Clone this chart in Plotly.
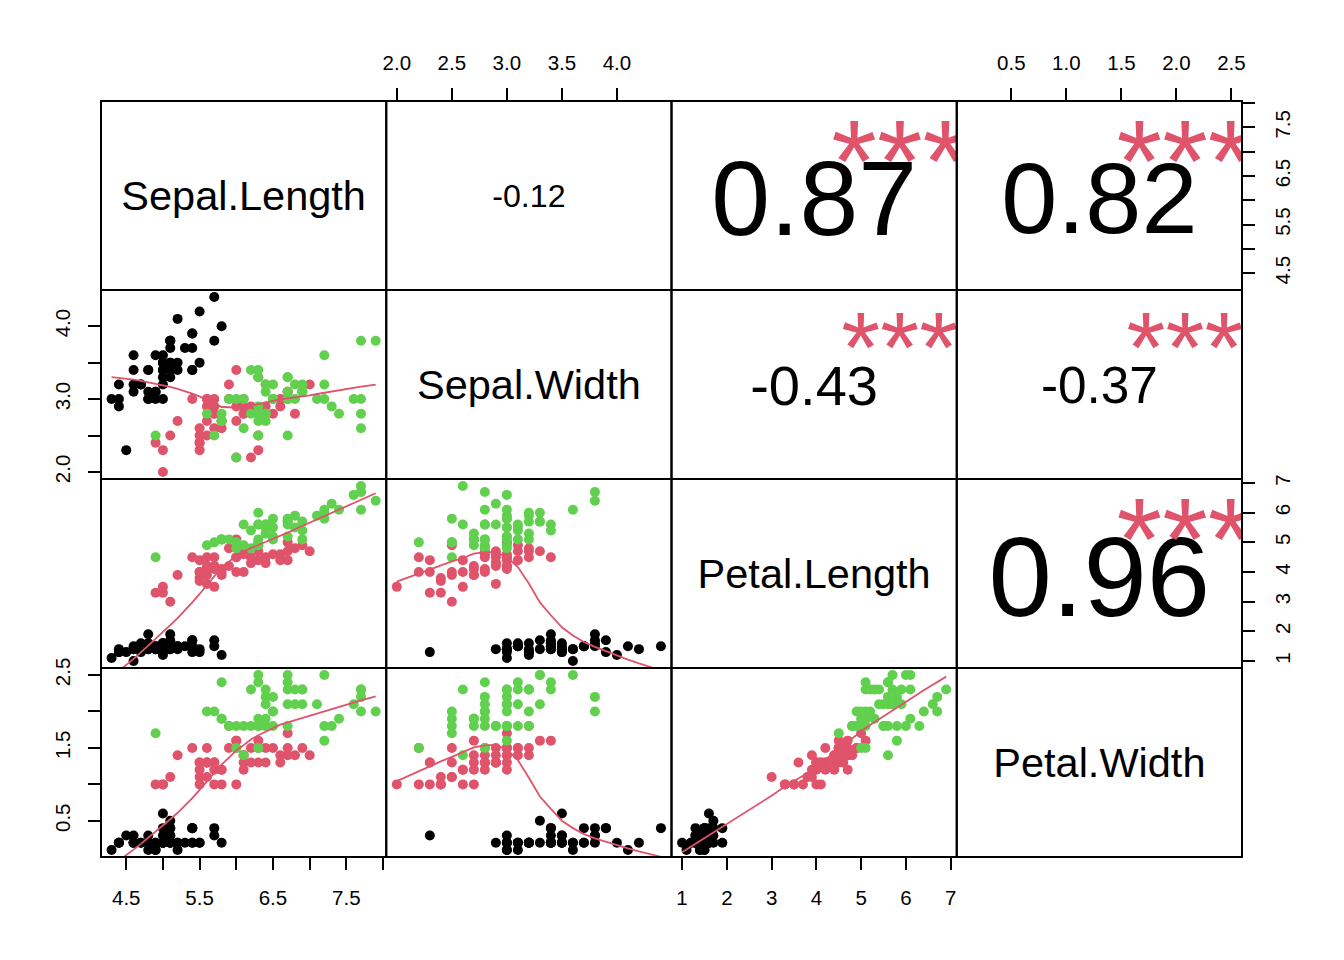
import numpy as np
import plotly.graph_objects as go
from plotly.subplots import make_subplots

# iris measurements (R datasets::iris), rows 1-150
sepal_length = [
    5.1, 4.9, 4.7, 4.6, 5.0, 5.4, 4.6, 5.0, 4.4, 4.9, 5.4, 4.8, 4.8, 4.3, 5.8, 5.7, 5.4, 5.1, 5.7, 5.1,
    5.4, 5.1, 4.6, 5.1, 4.8, 5.0, 5.0, 5.2, 5.2, 4.7, 4.8, 5.4, 5.2, 5.5, 4.9, 5.0, 5.5, 4.9, 4.4, 5.1,
    5.0, 4.5, 4.4, 5.0, 5.1, 4.8, 5.1, 4.6, 5.3, 5.0,
    7.0, 6.4, 6.9, 5.5, 6.5, 5.7, 6.3, 4.9, 6.6, 5.2, 5.0, 5.9, 6.0, 6.1, 5.6, 6.7, 5.6, 5.8, 6.2, 5.6,
    5.9, 6.1, 6.3, 6.1, 6.4, 6.6, 6.8, 6.7, 6.0, 5.7, 5.5, 5.5, 5.8, 6.0, 5.4, 6.0, 6.7, 6.3, 5.6, 5.5,
    5.5, 6.1, 5.8, 5.0, 5.6, 5.7, 5.7, 6.2, 5.1, 5.7,
    6.3, 5.8, 7.1, 6.3, 6.5, 7.6, 4.9, 7.3, 6.7, 7.2, 6.5, 6.4, 6.8, 5.7, 5.8, 6.4, 6.5, 7.7, 7.7, 6.0,
    6.9, 5.6, 7.7, 6.3, 6.7, 7.2, 6.2, 6.1, 6.4, 7.2, 7.4, 7.9, 6.4, 6.3, 6.1, 7.7, 6.3, 6.4, 6.0, 6.9,
    6.7, 6.9, 5.8, 6.8, 6.7, 6.7, 6.3, 6.5, 6.2, 5.9,
]
sepal_width = [
    3.5, 3.0, 3.2, 3.1, 3.6, 3.9, 3.4, 3.4, 2.9, 3.1, 3.7, 3.4, 3.0, 3.0, 4.0, 4.4, 3.9, 3.5, 3.8, 3.8,
    3.4, 3.7, 3.6, 3.3, 3.4, 3.0, 3.4, 3.5, 3.4, 3.2, 3.1, 3.4, 4.1, 4.2, 3.1, 3.2, 3.5, 3.6, 3.0, 3.4,
    3.5, 2.3, 3.2, 3.5, 3.8, 3.0, 3.8, 3.2, 3.7, 3.3,
    3.2, 3.2, 3.1, 2.3, 2.8, 2.8, 3.3, 2.4, 2.9, 2.7, 2.0, 3.0, 2.2, 2.9, 2.9, 3.1, 3.0, 2.7, 2.2, 2.5,
    3.2, 2.8, 2.5, 2.8, 2.9, 3.0, 2.8, 3.0, 2.9, 2.6, 2.4, 2.4, 2.7, 2.7, 3.0, 3.4, 3.1, 2.3, 3.0, 2.5,
    2.6, 3.0, 2.6, 2.3, 2.7, 3.0, 2.9, 2.9, 2.5, 2.8,
    3.3, 2.7, 3.0, 2.9, 3.0, 3.0, 2.5, 2.9, 2.5, 3.6, 3.2, 2.7, 3.0, 2.5, 2.8, 3.2, 3.0, 3.8, 2.6, 2.2,
    3.2, 2.8, 2.8, 2.7, 3.3, 3.2, 2.8, 3.0, 2.8, 3.0, 2.8, 3.8, 2.8, 2.8, 2.6, 3.0, 3.4, 3.1, 3.0, 3.1,
    3.1, 3.1, 2.7, 3.2, 3.3, 3.0, 2.5, 3.0, 3.4, 3.0,
]
petal_length = [
    1.4, 1.4, 1.3, 1.5, 1.4, 1.7, 1.4, 1.5, 1.4, 1.5, 1.5, 1.6, 1.4, 1.1, 1.2, 1.5, 1.3, 1.4, 1.7, 1.5,
    1.7, 1.5, 1.0, 1.7, 1.9, 1.6, 1.6, 1.5, 1.4, 1.6, 1.6, 1.5, 1.5, 1.4, 1.5, 1.2, 1.3, 1.4, 1.3, 1.5,
    1.3, 1.3, 1.3, 1.6, 1.9, 1.4, 1.6, 1.4, 1.5, 1.4,
    4.7, 4.5, 4.9, 4.0, 4.6, 4.5, 4.7, 3.3, 4.6, 3.9, 3.5, 4.2, 4.0, 4.7, 3.6, 4.4, 4.5, 4.1, 4.5, 3.9,
    4.8, 4.0, 4.9, 4.7, 4.3, 4.4, 4.8, 5.0, 4.5, 3.5, 3.8, 3.7, 3.9, 5.1, 4.5, 4.5, 4.7, 4.4, 4.1, 4.0,
    4.4, 4.6, 4.0, 3.3, 4.2, 4.2, 4.2, 4.3, 3.0, 4.1,
    6.0, 5.1, 5.9, 5.6, 5.8, 6.6, 4.5, 6.3, 5.8, 6.1, 5.1, 5.3, 5.5, 5.0, 5.1, 5.3, 5.5, 6.7, 6.9, 5.0,
    5.7, 4.9, 6.7, 4.9, 5.7, 6.0, 4.8, 4.9, 5.6, 5.8, 6.1, 6.4, 5.6, 5.1, 5.6, 6.1, 5.6, 5.5, 4.8, 5.4,
    5.6, 5.1, 5.1, 5.9, 5.7, 5.2, 5.0, 5.2, 5.4, 5.1,
]
petal_width = [
    0.2, 0.2, 0.2, 0.2, 0.2, 0.4, 0.3, 0.2, 0.2, 0.1, 0.2, 0.2, 0.1, 0.1, 0.2, 0.4, 0.4, 0.3, 0.3, 0.3,
    0.2, 0.4, 0.2, 0.5, 0.2, 0.2, 0.4, 0.2, 0.2, 0.2, 0.2, 0.4, 0.1, 0.2, 0.2, 0.2, 0.2, 0.1, 0.2, 0.2,
    0.3, 0.3, 0.2, 0.6, 0.4, 0.3, 0.2, 0.2, 0.2, 0.2,
    1.4, 1.5, 1.5, 1.3, 1.5, 1.3, 1.6, 1.0, 1.3, 1.4, 1.0, 1.5, 1.0, 1.4, 1.3, 1.4, 1.5, 1.0, 1.5, 1.1,
    1.8, 1.3, 1.5, 1.2, 1.3, 1.4, 1.4, 1.7, 1.5, 1.0, 1.1, 1.0, 1.2, 1.6, 1.5, 1.6, 1.5, 1.3, 1.3, 1.3,
    1.2, 1.4, 1.2, 1.0, 1.3, 1.2, 1.3, 1.3, 1.1, 1.3,
    2.5, 1.9, 2.1, 1.8, 2.2, 2.1, 1.7, 1.8, 1.8, 2.5, 2.0, 1.9, 2.1, 2.0, 2.4, 2.3, 1.8, 2.2, 2.3, 1.5,
    2.3, 2.0, 2.0, 1.8, 2.1, 1.8, 1.8, 1.8, 2.1, 1.6, 1.9, 2.0, 2.2, 1.5, 1.4, 2.3, 2.4, 1.8, 1.8, 2.1,
    2.4, 2.3, 1.9, 2.3, 2.5, 2.3, 1.9, 2.0, 2.3, 1.8,
]
species = ["setosa"] * 50 + ["versicolor"] * 50 + ["virginica"] * 50

variable_names = ["Sepal.Length", "Sepal.Width", "Petal.Length", "Petal.Width"]
# significance stars for the upper panels, (row, col) pairs as in the picture
star_labels = {(0, 1): "", (0, 2): "***", (0, 3): "***",
               (1, 2): "***", (1, 3): "***", (2, 3): "***"}

# tick values / labels per variable (R drops labels that would overlap)
sl_ticks = [4.5, 5.0, 5.5, 6.0, 6.5, 7.0, 7.5, 8.0]
sl_labels = ["4.5", "", "5.5", "", "6.5", "", "7.5", ""]
sw_ticks = [2.0, 2.5, 3.0, 3.5, 4.0]
sw_labels_top = ["2.0", "2.5", "3.0", "3.5", "4.0"]
sw_labels_left = ["2.0", "", "3.0", "", "4.0"]
pl_ticks = [1, 2, 3, 4, 5, 6, 7]
pl_labels = ["1", "2", "3", "4", "5", "6", "7"]
pw_ticks = [0.5, 1.0, 1.5, 2.0, 2.5]
pw_labels_top = ["0.5", "1.0", "1.5", "2.0", "2.5"]
pw_labels_left = ["0.5", "", "1.5", "", "2.5"]

species_colors = {"setosa": "#000000", "versicolor": "#DF536B", "virginica": "#61D04F"}
RED = "#DF536B"
FONT = "Liberation Sans, Arial, sans-serif"


def lowess(x, y, f=2 / 3, iters=3):
    # port of R's clowess (delta has no effect at this data spacing)
    x = np.asarray(x, float)
    y = np.asarray(y, float)
    order = np.argsort(x, kind="stable")
    x, y = x[order], y[order]
    n = len(x)
    ns = max(min(int(f * n + 1e-7), n), 2)
    rw = np.ones(n)
    ys = np.zeros(n)
    xr = x[-1] - x[0]
    for it in range(iters + 1):
        nleft, nright = 0, ns - 1
        for i in range(n):
            while nright < n - 1:
                if x[i] - x[nleft] <= x[nright + 1] - x[i]:
                    break
                nleft += 1
                nright += 1
            h = max(x[i] - x[nleft], x[nright] - x[i])
            h9, h1 = 0.999 * h, 0.001 * h
            w = np.zeros(n)
            j = nleft
            while j < n:
                r = abs(x[j] - x[i])
                if r <= h9:
                    w[j] = rw[j] if r <= h1 else rw[j] * (1 - (r / h) ** 3) ** 3
                elif x[j] > x[i]:
                    break
                j += 1
            a = w.sum()
            if a <= 0:
                ys[i] = y[i]
                continue
            w = w / a
            if h > 0:
                a = (w * x).sum()
                b = x[i] - a
                c = (w * (x - a) ** 2).sum()
                if np.sqrt(c) > 0.001 * xr:
                    b = b / c
                    w = w * (b * (x - a) + 1)
            ys[i] = (w * y).sum()
        if it == iters:
            break
        res = y - ys
        sc = np.abs(res).mean()
        cmad = 6 * np.median(np.abs(res))
        if cmad < 1e-7 * sc:
            break
        ar = np.abs(res)
        rw = np.where(ar <= 0.001 * cmad, 1.0,
                      np.where(ar <= 0.999 * cmad, (1 - (ar / cmad) ** 2) ** 2, 0.0))
    return x, ys


def str_width_em(s):
    widths = {"-": 0.333, ".": 0.278, "*": 0.389}
    return sum(widths.get(ch, 0.556) for ch in s)


data = [sepal_length, sepal_width, petal_length, petal_width]
ranges = []
for v in data:
    lo, hi = min(v), max(v)
    ext = 0.04 * (hi - lo)
    ranges.append([lo - ext, hi + ext])
point_colors = [species_colors[s] for s in species]

# page body has an 8px margin, so the figure is a bit smaller than the window
W, H = 1328, 944
ML, MR, MT, MB = 93, 94, 93, 95
panel_w = (W - ML - MR) / 4
panel_h = (H - MT - MB) / 4


def text_y(yr, frac, size_px, drop_em):
    # vertical anchor in data units, nudged down so the glyphs sit centred like R's text()
    span = yr[1] - yr[0]
    return yr[0] + frac * span - drop_em * size_px / panel_h * span


fig = make_subplots(rows=4, cols=4, horizontal_spacing=0, vertical_spacing=0)

for i in range(4):
    for j in range(4):
        xr, yr = ranges[j], ranges[i]
        xmid = (xr[0] + xr[1]) / 2
        if i > j:
            fig.add_trace(go.Scatter(
                x=data[j], y=data[i], mode="markers",
                marker=dict(size=10, color=point_colors, line=dict(width=0)),
                hoverinfo="skip", showlegend=False), row=i + 1, col=j + 1)
            sx, sy = lowess(data[j], data[i])
            fig.add_trace(go.Scatter(
                x=sx, y=sy, mode="lines", line=dict(color=RED, width=1.8),
                hoverinfo="skip", showlegend=False), row=i + 1, col=j + 1)
        elif i == j:
            size = 41.5
            fig.add_trace(go.Scatter(
                x=[xmid], y=[text_y(yr, 0.5, size, 0.1)], mode="text",
                text=[variable_names[i]], textfont=dict(size=size, color="black", family=FONT),
                hoverinfo="skip", showlegend=False), row=i + 1, col=j + 1)
        else:
            r = np.corrcoef(data[j], data[i])[0, 1]
            txt = f"{r:.2f}"
            cex = 0.8 * panel_w / str_width_em(txt)
            size = cex * (abs(r) + 0.3) / 1.3
            fig.add_trace(go.Scatter(
                x=[xmid], y=[text_y(yr, 0.5, size, 0.12)], mode="text",
                text=[txt], textfont=dict(size=size, color="black", family=FONT),
                hoverinfo="skip", showlegend=False), row=i + 1, col=j + 1)
            stars = star_labels[(i, j)]
            if stars:
                fig.add_trace(go.Scatter(
                    x=[xr[0] + 0.8 * (xr[1] - xr[0])], y=[text_y(yr, 0.8, cex, 0.29)],
                    mode="text", text=[stars], textposition="middle center",
                    textfont=dict(size=cex, color=RED, family=FONT),
                    hoverinfo="skip", showlegend=False), row=i + 1, col=j + 1)

base_axis = dict(showgrid=False, zeroline=False, showline=False,
                 ticks="", showticklabels=False,
                 tickfont=dict(size=20.5, color="black", family=FONT))

for i in range(4):
    for j in range(4):
        idx = i * 4 + j + 1
        suffix = "" if idx == 1 else str(idx)
        fig.update_layout({f"xaxis{idx}": dict(base_axis, range=ranges[j]),
                           f"yaxis{idx}": dict(base_axis, range=ranges[i])})
        # panel frame; drawn as a shape so shared edges coincide
        fig.add_shape(type="rect", xref=f"x{suffix} domain", yref=f"y{suffix} domain",
                      x0=0, x1=1, y0=0, y1=1, line=dict(color="black", width=2),
                      fillcolor="rgba(0,0,0,0)", layer="above")

tick_style = dict(ticks="outside", ticklen=12, tickwidth=2, tickcolor="black",
                  showticklabels=True, ticklabelstandoff=10)

# bottom axes: columns 1 and 3 of row 4
fig.update_layout(xaxis13=dict(tick_style, side="bottom", tickvals=sl_ticks, ticktext=sl_labels),
                  xaxis15=dict(tick_style, side="bottom", tickvals=pl_ticks, ticktext=pl_labels))
# top axes: columns 2 and 4 of row 1
fig.update_layout(xaxis2=dict(tick_style, side="top", tickvals=sw_ticks, ticktext=sw_labels_top),
                  xaxis4=dict(tick_style, side="top", tickvals=pw_ticks, ticktext=pw_labels_top))
# left axes: rows 2 and 4 of column 1
fig.update_layout(yaxis5=dict(tick_style, side="left", tickangle=-90, tickvals=sw_ticks, ticktext=sw_labels_left),
                  yaxis13=dict(tick_style, side="left", tickangle=-90, tickvals=pw_ticks, ticktext=pw_labels_left))
# right axes: rows 1 and 3 of column 4
fig.update_layout(yaxis4=dict(tick_style, side="right", tickangle=-90, tickvals=sl_ticks, ticktext=sl_labels),
                  yaxis12=dict(tick_style, side="right", tickangle=-90, tickvals=pl_ticks, ticktext=pl_labels))

fig.update_layout(
    width=W, height=H,
    margin=dict(l=ML, r=MR, t=MT, b=MB),
    plot_bgcolor="white", paper_bgcolor="white",
    showlegend=False, hovermode=False,
    font=dict(family=FONT, color="black"),
)

fig.write_html("out.html")
